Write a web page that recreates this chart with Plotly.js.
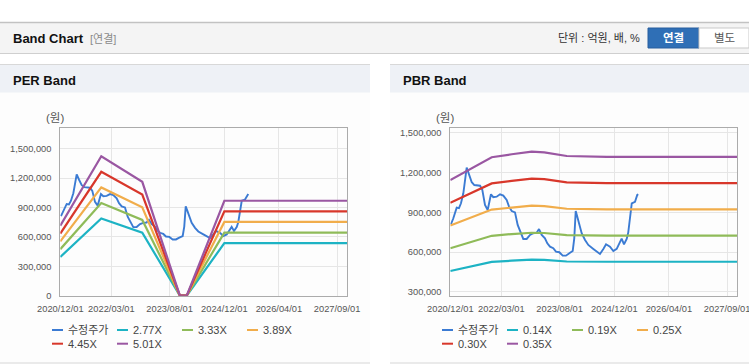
<!DOCTYPE html>
<html><head><meta charset="utf-8">
<script src="https://cdn.plot.ly/plotly-3.0.1.min.js"></script>
<style>html,body{margin:0;padding:0;background:#fff;overflow:hidden}#chart{width:749px;height:364px}</style>
</head><body><div id="chart"></div><script>
// ---------- data ----------
const priceDates = ['2020-12-07','2020-12-28','2021-01-27','2021-02-16','2021-03-06','2021-03-27','2021-04-26','2021-05-17','2021-06-10','2021-07-03','2021-08-23','2021-09-12','2021-10-06','2021-10-30','2021-11-28','2021-12-19','2022-01-18','2022-02-17','2022-03-18','2022-04-17','2022-05-08','2022-06-01','2022-06-30','2022-07-24','2022-08-23','2022-09-12','2022-10-12','2022-11-11','2022-12-10','2023-01-09','2023-01-30','2023-02-23','2023-03-24','2023-04-14','2023-05-08','2023-06-06','2023-06-30','2023-07-30','2023-08-29','2023-09-27','2023-10-27','2023-11-26','2023-12-10','2023-12-23','2024-01-06','2024-01-24','2024-02-14','2024-03-15','2024-04-13','2024-05-28','2024-06-27','2024-07-26','2024-08-25','2024-09-18','2024-10-23','2024-11-22','2024-12-22','2025-01-20','2025-02-04','2025-02-25','2025-03-21','2025-04-04','2025-04-19','2025-05-05','2025-06-03','2025-06-23','2025-07-02'];
const priceValues = [811000,856000,936000,932000,969000,1045000,1238000,1183000,1128000,1107000,1102000,1070000,957000,919000,1037000,1015000,1019000,1037000,1027000,994000,944000,911000,901000,806000,743000,700000,700000,730000,743000,747000,775000,730000,705000,667000,642000,630000,604000,600000,574000,574000,592000,609000,705000,911000,868000,806000,743000,692000,655000,625000,604000,587000,625000,660000,642000,609000,625000,672000,702000,660000,700000,750000,879000,969000,981000,1032000,1037000];

const perDates = ['2020-12-01','2021-12-01','2022-12-01','2023-11-01','2024-01-01','2024-12-01','2027-12-31'];
const per277 = [395000,787000,643000,0,0,536000,536000];
const per333 = [475000,946000,773000,0,0,644000,644000];
const per389 = [554000,1105000,902000,0,0,753000,753000];
const per445 = [634000,1264000,1032000,0,0,861000,861000];
const per501 = [714000,1423000,1162000,0,0,969000,969000];
const perLabels = ['수정주가','2.77X','3.33X','3.89X','4.45X','5.01X'];

const pbrDates = ['2020-12-01','2021-04-11','2021-08-07','2021-12-05','2022-06-01','2022-11-26','2023-03-18','2023-07-07','2023-10-04','2024-09-24','2027-12-31'];
const pbr014 = [458000,483000,506000,527000,536000,544000,542000,536000,530000,528000,528000];
const pbr019 = [630000,664000,695000,724000,737000,747000,745000,737000,729000,726000,726000];
const pbr025 = [801000,845000,885000,922000,937000,951000,948000,937000,928000,923000,923000];
const pbr030 = [973000,1027000,1074000,1119000,1138000,1155000,1151000,1138000,1127000,1121000,1121000];
const pbr035 = [1145000,1208000,1264000,1317000,1339000,1359000,1354000,1339000,1326000,1319000,1319000];
const pbrLabels = ['수정주가','0.14X','0.19X','0.25X','0.30X','0.35X'];

const xTickVals = ['2020-12-01','2022-03-01','2023-08-01','2024-12-01','2026-04-01','2027-09-01'];
const xTickText = ['2020/12/01','2022/03/01','2023/08/01','2024/12/01','2026/04/01','2027/09/01'];
const perYTickVals = [0,300000,600000,900000,1200000,1500000];
const perYTickText = ['0','300,000','600,000','900,000','1,200,000','1,500,000'];
const pbrYTickVals = [300000,600000,900000,1200000,1500000];
const pbrYTickText = ['300,000','600,000','900,000','1,200,000','1,500,000'];

const colors = ['#3b7bd3','#1db3c4','#8fbb59','#f1ad4b','#d8372b','#9a57a2'];

// ---------- layout helpers ----------
const W = 749, H = 364;
const px = v => v / W;
const py = v => 1 - v / H;
const FONT = 'Liberation Sans, Arial, Noto Sans CJK KR, sans-serif';

const perSeries = [priceValues, per277, per333, per389, per445, per501];
const pbrSeries = [priceValues, pbr014, pbr019, pbr025, pbr030, pbr035];

const traces = [];
perSeries.forEach((ys, i) => {
  traces.push({type:'scatter', mode:'lines', x: i === 0 ? priceDates : perDates, y: ys,
    name: perLabels[i], xaxis:'x', yaxis:'y', showlegend:false, hoverinfo:'skip',
    line:{color:colors[i], width: i === 0 ? 1.9 : 2.2}});
});
pbrSeries.forEach((ys, i) => {
  traces.push({type:'scatter', mode:'lines', x: i === 0 ? priceDates : pbrDates, y: ys,
    name: pbrLabels[i], xaxis:'x2', yaxis:'y2', showlegend:false, hoverinfo:'skip',
    line:{color:colors[i], width: i === 0 ? 1.9 : 2.2}});
});

const shapes = [];
const annotations = [];
function rect(x0,y0,x1,y1,fill,lineColor,lw){
  shapes.push({type:'rect', xref:'paper', yref:'paper', layer:'below', x0:px(x0), x1:px(x1), y0:py(y1), y1:py(y0),
    fillcolor:fill, line:{color:lineColor||'rgba(0,0,0,0)', width: lw||0}});
}
function hline(x0,x1,y,color,w){
  shapes.push({type:'line', xref:'paper', yref:'paper', layer:'below', x0:px(x0), x1:px(x1), y0:py(y), y1:py(y), line:{color:color, width:w}});
}
function text(t,x,y,opts){
  opts = opts || {};
  annotations.push({xref:'paper', yref:'paper', x:px(x), y:py(y), text:t, showarrow:false,
    xanchor: opts.xanchor || 'left', yanchor:'middle',
    font:{family:FONT, size: opts.size || 11, color: opts.color || '#333', weight: opts.weight || 'normal'}});
}

// top header bar
rect(0,22,749,53,'#f4f4f4');
hline(0,749,22.5,'#c2c2c2',1.5);
hline(0,749,53.5,'#cfcfcf',1);
text('Band Chart',11,39,{size:13,weight:'bold',color:'#111'});
text('[연결]',88,39,{size:11,color:'#8a8a8a'});
text('단위 : 억원, 배, %',642,38.5,{size:11,color:'#333',xanchor:'right'});
rect(648,28,699,48,'#2f6fb6','#295f9e',1);
rect(699,28,749,48,'#ffffff','#c9c9c9',1);
text('연결',673.5,38,{size:11.5,weight:'bold',color:'#ffffff',xanchor:'center'});
text('별도',724,38,{size:11.5,color:'#555',xanchor:'center'});

// panels
[[0,370,'PER Band',perLabels],[390,749,'PBR Band',pbrLabels]].forEach(p => {
  const [x0,x1,title,labels] = p;
  rect(x0,64,x1,363,'#fdfdfd');
  rect(x0,64,x1,92.5,'#eef1f6');
  hline(x0,x1,64.5,'#d8d8d8',1);
  hline(x0,x1,363,'#d6d6d6',1);
  text(title,x0+11,80.5,{size:13,weight:'bold',color:'#111'});
  text('(원)',x0+55,118,{size:11.5,color:'#555',xanchor:'center'});
  labels.forEach((lab,i) => {
    const col = i % 4, row = Math.floor(i / 4);
    const lx = x0 + 52 + col*65, ly = 330 + row*13.7;
    shapes.push({type:'line', xref:'paper', yref:'paper', x0:px(lx), x1:px(lx+11), y0:py(ly), y1:py(ly), line:{color:colors[i], width:2}});
    text(lab, lx+14, ly, {size:11, color:'#444'});
  });
});

const xBase = {type:'date', range:['2020-12-01','2027-12-01'], tickvals:xTickVals, ticktext:xTickText,
  showgrid:true, gridcolor:'#e6e6e6', gridwidth:1, showline:true, linecolor:'#ababab', linewidth:1, mirror:true,
  ticks:'', ticklabelstandoff:4, ticklabeloverflow:'allow', tickfont:{family:FONT, size:9.3, color:'#555'}, zeroline:false, fixedrange:true};
const yBase = {showgrid:true, gridcolor:'#e6e6e6', gridwidth:1, showline:true, linecolor:'#ababab', linewidth:1, mirror:true,
  ticks:'', ticklabelstandoff:6, tickfont:{family:FONT, size:9.3, color:'#555'}, zeroline:false, fixedrange:true};

const layout = {
  width:W, height:H, margin:{l:0,r:0,t:0,b:0}, paper_bgcolor:'#ffffff', plot_bgcolor:'rgba(0,0,0,0)',
  showlegend:false,
  xaxis: Object.assign({}, xBase, {domain:[px(60.3), px(347.3)], anchor:'y'}),
  yaxis: Object.assign({}, yBase, {domain:[py(295.7), py(128.3)], anchor:'x', range:[0,1708000], tickvals:perYTickVals, ticktext:perYTickText}),
  xaxis2: Object.assign({}, xBase, {domain:[px(450.3), px(737.3)], anchor:'y2'}),
  yaxis2: Object.assign({}, yBase, {domain:[py(295.7), py(128.3)], anchor:'x2', range:[272000,1535000], tickvals:pbrYTickVals, ticktext:pbrYTickText}),
  shapes: shapes, annotations: annotations
};
Plotly.newPlot('chart', traces, layout, {staticPlot:true, displayModeBar:false});
</script></body></html>
